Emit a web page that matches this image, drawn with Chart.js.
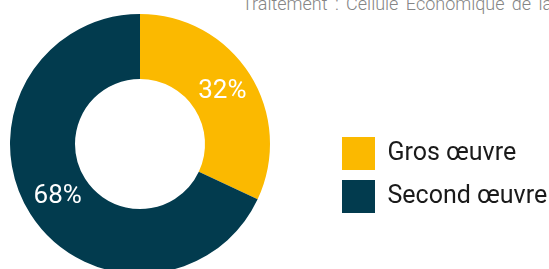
<!DOCTYPE html>
<html>
<head>
<meta charset="utf-8">
<script src="https://cdn.jsdelivr.net/npm/chart.js@4"></script>
<style>
  html, body { margin: 0; padding: 0; background: #fff; }
  body { width: 549px; height: 269px; overflow: hidden; position: relative; }
  #source {
    position: absolute; left: 242px; top: -5px;
    font: 300 18px/18px Roboto, sans-serif; color: #858585;
    white-space: nowrap; word-spacing: 3px;
  }
  #myChart { position: absolute; left: -52px; top: 0; }
</style>
</head>
<body>
<div id="source">Traitement : Cellule Economique de la Construction</div>
<canvas id="myChart" width="601" height="288"></canvas>
<script>
const categories = ['Gros œuvre', 'Second œuvre'];
const parts = [32, 68];
const colors = ['#fbb900', '#023b4e'];

var ctx = document.getElementById('myChart').getContext('2d');

// pourcentages ecrits au milieu de chaque part
const labelsPlugin = {
    id: 'pctLabels',
    afterDatasetsDraw: (chart) => {
        const meta = chart.getDatasetMeta(0);
        const c = chart.ctx;
        c.save();
        c.fillStyle = '#fff';
        c.font = '400 26px Roboto';
        c.textAlign = 'center';
        c.textBaseline = 'middle';
        meta.data.forEach((arc, i) => {
            const pos = arc.tooltipPosition();
            c.fillText(parts[i] + '%', pos.x, pos.y);
        });
        c.restore();
    }
};

var myChart = new Chart(ctx, {
    type: 'doughnut',
    data: {
        labels: categories,
        datasets: [{
            data: parts,
            backgroundColor: colors,
            borderWidth: 0,
            radius: 130,
            cutout: '50%'
        }]
    },
    options: {
        responsive: false,
        animation: false,
        layout: { padding: 0 },
        plugins: {
            tooltip: { enabled: false },
            legend: {
                position: 'right',
                maxWidth: 217,
                title: {
                    display: true,
                    text: '',
                    font: { size: 10, lineHeight: 1 },
                    padding: { top: 52, bottom: 0 }
                },
                labels: {
                    boxWidth: 33,
                    boxHeight: 33,
                    padding: 10,
                    color: '#1a1a1a',
                    font: { family: 'Roboto', size: 25, weight: '400' }
                }
            }
        }
    },
    plugins: [labelsPlugin]
});
</script>
</body>
</html>
